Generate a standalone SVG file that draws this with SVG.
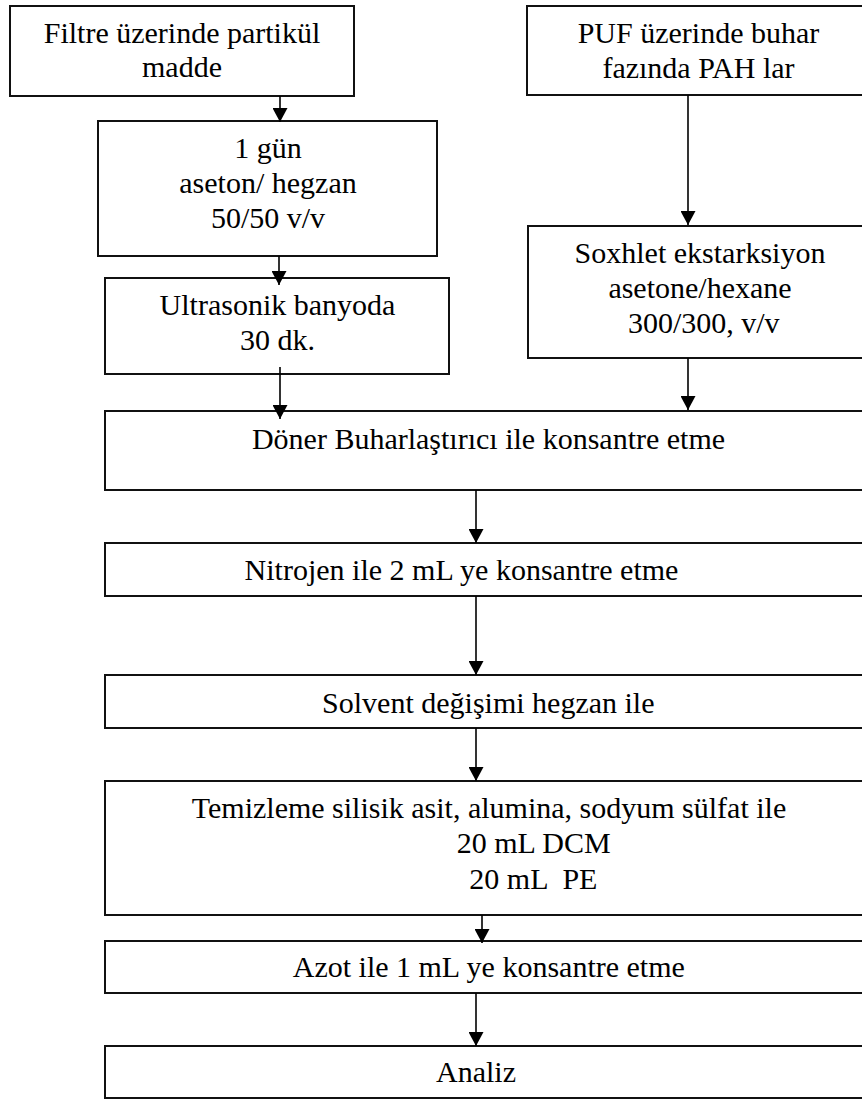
<svg xmlns="http://www.w3.org/2000/svg" width="862" height="1099" viewBox="0 0 862 1099">
<style>
.box{fill:#fff;stroke:#111;stroke-width:2}
.t{font-family:"Liberation Serif","Times New Roman",Times,serif;font-size:30px;fill:#000;text-anchor:middle;white-space:pre}
.c{stroke:#000;stroke-width:1.6;fill:none;marker-end:url(#ah)}
</style>
<defs>
<marker id="ah" viewBox="0 0 14 15" markerWidth="14" markerHeight="15" markerUnits="userSpaceOnUse" refX="14" refY="7.5" orient="auto">
<path d="M0,0 L14,7.5 L0,15 z" fill="#000"/>
</marker>
</defs>
<rect width="862" height="1099" fill="#fff"/>
<g id="n1">
<rect class="box" x="10" y="6" width="344" height="90"/>
<text class="t" x="182" y="43">Filtre üzerinde partikül</text>
<text class="t" x="182" y="77">madde</text>
</g>
<g id="n2">
<rect class="box" x="98" y="121" width="339" height="135"/>
<text class="t" x="268" y="158">1 gün</text>
<text class="t" x="268" y="193">aseton/ hegzan</text>
<text class="t" x="268" y="228">50/50 v/v</text>
</g>
<g id="n3">
<rect class="box" x="105" y="278" width="344" height="96"/>
<text class="t" x="277.5" y="315">Ultrasonik banyoda</text>
<text class="t" x="277.5" y="350">30 dk.</text>
</g>
<g id="n4">
<rect class="box" x="527" y="6" width="360" height="89"/>
<text class="t" x="698.5" y="43">PUF üzerinde buhar</text>
<text class="t" x="698.5" y="78">fazında PAH lar</text>
</g>
<g id="n5">
<rect class="box" x="528" y="226" width="360" height="132"/>
<text class="t" x="700" y="263">Soxhlet ekstarksiyon</text>
<text class="t" x="700" y="298">asetone/hexane</text>
<text class="t" x="700" y="333"> 300/300, v/v</text>
</g>
<g id="n6">
<rect class="box" x="105" y="411" width="780" height="79"/>
<text class="t" x="488.5" y="449">Döner Buharlaştırıcı ile konsantre etme</text>
</g>
<g id="n7">
<rect class="box" x="105" y="543" width="780" height="53"/>
<text class="t" x="461.5" y="580">Nitrojen ile 2 mL ye konsantre etme</text>
</g>
<g id="n8">
<rect class="box" x="105" y="675" width="780" height="53"/>
<text class="t" x="488.3" y="713">Solvent değişimi hegzan ile</text>
</g>
<g id="n9">
<rect class="box" x="105" y="781" width="780" height="134"/>
<text class="t" x="489" y="818">Temizleme silisik asit, alumina, sodyum sülfat ile</text>
<text class="t" x="533.7" y="853">20 mL DCM</text>
<text class="t" x="533.4" y="889">20 mL  PE</text>
</g>
<g id="n10">
<rect class="box" x="105" y="941" width="780" height="52"/>
<text class="t" x="488.8" y="977">Azot ile 1 mL ye konsantre etme</text>
</g>
<g id="n11">
<rect class="box" x="105" y="1046" width="780" height="52"/>
<text class="t" x="476" y="1082">Analiz</text>
</g>
<g id="connectors">
<line class="c" x1="280" y1="96" x2="280" y2="122"/>
<line class="c" x1="279" y1="256" x2="279" y2="285"/>
<line class="c" x1="280" y1="367" x2="280" y2="419"/>
<line class="c" x1="688" y1="95" x2="688" y2="225"/>
<line class="c" x1="688" y1="358" x2="688" y2="410"/>
<line class="c" x1="476" y1="490" x2="476" y2="543"/>
<line class="c" x1="476" y1="596" x2="476" y2="675"/>
<line class="c" x1="476" y1="728" x2="476" y2="781"/>
<line class="c" x1="482" y1="915" x2="482" y2="943"/>
<line class="c" x1="476" y1="993" x2="476" y2="1046"/>
</g>
</svg>
